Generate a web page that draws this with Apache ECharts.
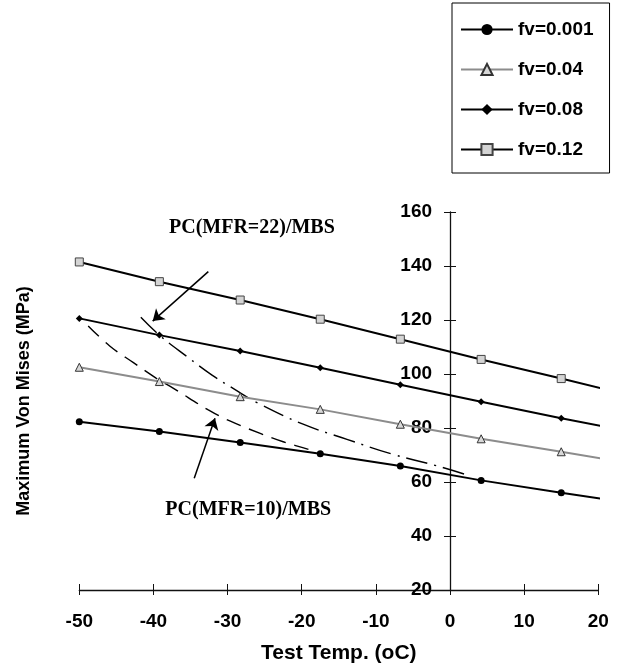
<!DOCTYPE html>
<html>
<head>
<meta charset="utf-8">
<script src="https://cdn.jsdelivr.net/npm/echarts@6/dist/echarts.min.js"></script>
<style>
  html, body { margin: 0; padding: 0; background: #fff; }
  #chart { width: 618px; height: 669px; }
</style>
</head>
<body>
<div id="chart"></div>
<script>
// Test temperatures (oC) at which each fibre volume fraction was evaluated
const testTemps = [-50, -39.2, -28.3, -17.5, -6.7, 4.2, 15];
// The fitted lines run a little past the last test temperature
const lineEndTemp = 20.9;

// Maximum von Mises stress (MPa) per fibre volume fraction
const seriesNames = ['fv=0.001', 'fv=0.04', 'fv=0.08', 'fv=0.12'];
const stressFv001 = [82.3, 78.7, 74.6, 70.5, 65.9, 60.6, 56.0];
const stressFv004 = [102.5, 97.2, 91.6, 86.9, 81.4, 76.0, 71.2];
const stressFv008 = [120.6, 114.4, 108.5, 102.3, 96.0, 89.7, 83.6];
const stressFv012 = [141.5, 134.2, 127.4, 120.3, 112.9, 105.4, 98.3];
// Stress where each line ends (same order as seriesNames)
const lineEndStress = [53.6, 68.5, 80.5, 94.4];

// Reference curves for the two blends
const mfr22Temps  = [-41.7, -39.2, -35.5, -32.1, -28.5, -26.1, -19.9, -13.9, -7.9, -1.8, 2.8];
const mfr22Stress = [121.0, 114.4, 106.5, 99.6, 93.4, 89.5, 81.5, 75.8, 70.4, 66.0, 62.2];
const mfr10Temps  = [-48.8, -45.9, -42.7, -39.6, -37.3, -32.6, -29.7, -25.6, -22.5, -18.9, -17.5];
const mfr10Stress = [117.8, 110.4, 104.2, 98.4, 94.7, 86.7, 82.6, 78.0, 74.9, 71.9, 70.5];

// Annotation arrows: [tail, head] in (temp, stress)
const arrowMfr22 = [[-32.6, 137.9], [-40.1, 119.6]];
const arrowMfr10 = [[-34.5, 61.4], [-31.7, 83.6]];
// Annotation labels: left edge / vertical centre in (temp, stress)
const labelMfr22 = { text: 'PC(MFR=22)/MBS', at: [-37.9, 154.3] };
const labelMfr10 = { text: 'PC(MFR=10)/MBS', at: [-38.4, 49.6] };

// Axis ranges
const tempMin = -50, tempMax = 20, tempStep = 10;
const stressMin = 20, stressMax = 160, stressStep = 20;

const sansBold = { fontFamily: 'Liberation Sans, Arial, sans-serif', fontWeight: 'bold', color: '#000' };

function buildLine(values, endValue) {
  const pts = testTemps.map((t, i) => [t, values[i]]);
  pts.push({ value: [lineEndTemp, endValue], symbol: 'none' });
  return pts;
}
function pairs(xs, ys) { return xs.map((x, i) => [x, ys[i]]); }

const W = 618;
const gridLeft = 79.3, gridRight = 19.7;
// The vertical axis crosses the horizontal one at 0 oC
const gridWidth = W - gridLeft - gridRight;
const yAxisShift = -((0 - tempMin) / (tempMax - tempMin)) * gridWidth;

const chart = echarts.init(document.getElementById('chart'), null, { renderer: 'canvas' });

const axisColor = '#111';
const axisLineStyle = { color: axisColor, width: 1.3 };
const option = {
  animation: false,
  backgroundColor: '#fff',
  grid: { left: gridLeft, right: gridRight, top: 212, bottom: 79, containLabel: false, outerBoundsMode: 'none' },
  legend: {
    data: seriesNames,
    orient: 'vertical',
    left: 452, top: 3,
    padding: [17, 16, 14, 8],
    itemGap: 21,
    itemWidth: 52,
    itemHeight: 14,
    borderColor: '#000', borderWidth: 1,
    textStyle: Object.assign({ fontSize: 19 }, sansBold)
  },
  xAxis: [
    {
      type: 'value', min: tempMin, max: tempMax, interval: tempStep,
      axisLine: { show: true, onZero: false, lineStyle: axisLineStyle },
      axisTick: { show: true, length: 5, lineStyle: { color: axisColor, width: 1 } },
      axisLabel: Object.assign({ fontSize: 19, margin: 22 }, sansBold),
      splitLine: { show: false },
      name: 'Test Temp. (oC)', nameLocation: 'middle', nameGap: 53,
      nameTextStyle: Object.assign({ fontSize: 21 }, sansBold)
    },
    {
      type: 'value', min: tempMin, max: tempMax, interval: tempStep, position: 'bottom',
      axisLine: { show: false, onZero: false },
      axisTick: { show: true, inside: true, length: 6, lineStyle: { color: axisColor, width: 1 } },
      axisLabel: { show: false }, splitLine: { show: false }
    }
  ],
  yAxis: [
    {
      type: 'value', min: stressMin, max: stressMax, interval: stressStep, position: 'left',
      offset: yAxisShift,
      axisLine: { show: true, onZero: false, lineStyle: axisLineStyle },
      axisTick: { show: true, length: 6, lineStyle: { color: axisColor, width: 1 } },
      axisLabel: Object.assign({ fontSize: 19, margin: 18 }, sansBold),
      splitLine: { show: false },
      name: 'Maximum Von Mises (MPa)', nameLocation: 'middle', nameGap: 417,
      nameTextStyle: Object.assign({ fontSize: 18 }, sansBold)
    },
    {
      type: 'value', min: stressMin, max: stressMax, interval: stressStep, position: 'left',
      offset: yAxisShift,
      axisLine: { show: false, onZero: false },
      axisTick: { show: true, inside: true, length: 6, lineStyle: { color: axisColor, width: 1 } },
      axisLabel: { show: false }, splitLine: { show: false }
    }
  ],
  series: [
    {
      name: 'fv=0.001', type: 'line', data: buildLine(stressFv001, lineEndStress[0]),
      clip: false, z: 5,
      symbol: 'circle', symbolSize: 7,
      itemStyle: { color: '#000' },
      lineStyle: { color: '#000', width: 2 }
    },
    {
      name: 'fv=0.04', type: 'line', data: buildLine(stressFv004, lineEndStress[1]),
      clip: false, z: 4,
      symbol: 'triangle', symbolSize: 8,
      itemStyle: { color: '#d8d8d8', borderColor: '#333', borderWidth: 1 },
      lineStyle: { color: '#8c8c8c', width: 2 }
    },
    {
      name: 'fv=0.08', type: 'line', data: buildLine(stressFv008, lineEndStress[2]),
      clip: false, z: 5,
      symbol: 'diamond', symbolSize: 7,
      itemStyle: { color: '#000' },
      lineStyle: { color: '#000', width: 2 }
    },
    {
      name: 'fv=0.12', type: 'line', data: buildLine(stressFv012, lineEndStress[3]),
      clip: false, z: 5,
      symbol: 'rect', symbolSize: 8,
      itemStyle: { color: '#d4d4d4', borderColor: '#444', borderWidth: 1 },
      lineStyle: { color: '#000', width: 2 }
    },
    {
      name: 'PC(MFR=22)/MBS', type: 'line', data: pairs(mfr22Temps, mfr22Stress),
      smooth: 0.4, showSymbol: false, symbol: 'none', z: 3,
      lineStyle: { color: '#000', width: 1.4, type: [22, 7, 2, 7] }
    },
    {
      name: 'PC(MFR=10)/MBS', type: 'line', data: pairs(mfr10Temps, mfr10Stress),
      smooth: 0.4, showSymbol: false, symbol: 'none', z: 3,
      lineStyle: { color: '#000', width: 1.4, type: [15, 9] }
    },
    {
      name: 'arrows', type: 'lines', coordinateSystem: 'cartesian2d', z: 6,
      symbol: ['none', 'arrow'], symbolSize: 11,
      lineStyle: { color: '#000', width: 1.5, opacity: 1, curveness: 0 },
      itemStyle: { color: '#000' },
      data: [{ coords: arrowMfr22 }, { coords: arrowMfr10 }],
      silent: true
    }
  ]
};
chart.setOption(option);

// Place the blend labels in data space
function labelGraphic(lbl) {
  const p = chart.convertToPixel({ xAxisIndex: 0, yAxisIndex: 0 }, lbl.at);
  return {
    type: 'text', x: p[0], y: p[1], z: 10,
    style: {
      text: lbl.text, fill: '#000',
      font: 'bold 20px "Liberation Serif", "Times New Roman", serif',
      textAlign: 'left', textVerticalAlign: 'middle'
    }
  };
}
chart.setOption({ graphic: [labelGraphic(labelMfr22), labelGraphic(labelMfr10)] });
</script>
</body>
</html>
